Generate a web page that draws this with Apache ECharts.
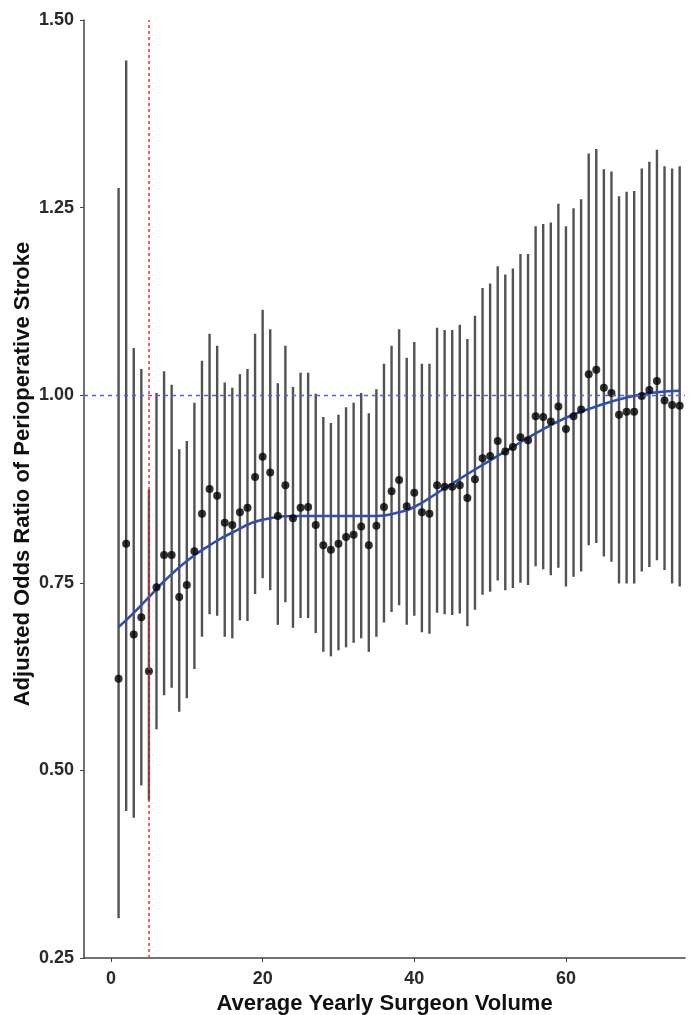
<!DOCTYPE html>
<html>
<head>
<meta charset="utf-8">
<script src="https://cdn.jsdelivr.net/npm/echarts@6/dist/echarts.min.js"></script>
<style>
html,body{margin:0;padding:0;background:#fff;}
#chart{width:695px;height:1015px;}
</style>
</head>
<body>
<div id="chart"></div>
<script>
// Average yearly surgeon volume (x)
const volume = [1,2,3,4,5,6,7,8,9,10,11,12,13,14,15,16,17,18,19,20,21,22,23,24,25,26,27,28,29,30,31,32,33,34,35,36,37,38,39,40,41,42,43,44,45,46,47,48,49,50,51,52,53,54,55,56,57,58,59,60,61,62,63,64,65,66,67,68,69,70,71,72,73,74,75];
// Adjusted odds ratio point estimates
const oddsRatio = [0.622,0.802,0.681,0.704,0.632,0.744,0.787,0.787,0.731,0.747,0.792,0.842,0.875,0.866,0.830,0.827,0.844,0.850,0.891,0.918,0.897,0.839,0.880,0.836,0.850,0.851,0.827,0.800,0.794,0.802,0.811,0.814,0.825,0.800,0.826,0.851,0.872,0.887,0.852,0.870,0.844,0.842,0.880,0.878,0.878,0.880,0.863,0.888,0.916,0.919,0.939,0.925,0.931,0.944,0.940,0.972,0.971,0.965,0.985,0.955,0.972,0.981,1.028,1.034,1.010,1.003,0.974,0.978,0.978,0.999,1.007,1.019,0.993,0.987,0.986];
// Lower confidence limits
const lowerCI = [0.303,0.446,0.437,0.480,0.460,0.555,0.600,0.610,0.578,0.596,0.635,0.678,0.708,0.706,0.678,0.676,0.700,0.699,0.735,0.756,0.740,0.694,0.724,0.690,0.703,0.703,0.683,0.658,0.652,0.660,0.664,0.670,0.676,0.658,0.678,0.697,0.711,0.720,0.694,0.706,0.684,0.682,0.710,0.708,0.707,0.709,0.692,0.714,0.734,0.738,0.753,0.740,0.743,0.750,0.747,0.772,0.768,0.760,0.770,0.745,0.758,0.765,0.800,0.803,0.785,0.778,0.749,0.749,0.749,0.765,0.771,0.780,0.767,0.749,0.745];
// Upper confidence limits
const upperCI = [1.276,1.446,1.063,1.035,0.874,1.003,1.032,1.014,0.928,0.939,0.990,1.046,1.082,1.066,1.017,1.010,1.028,1.035,1.082,1.114,1.088,1.016,1.066,1.011,1.030,1.030,1.002,0.971,0.963,0.974,0.984,0.990,1.003,0.976,1.008,1.042,1.066,1.088,1.050,1.071,1.042,1.042,1.090,1.087,1.087,1.094,1.075,1.106,1.143,1.149,1.172,1.161,1.169,1.188,1.188,1.225,1.228,1.230,1.255,1.225,1.249,1.261,1.322,1.328,1.301,1.298,1.265,1.271,1.272,1.302,1.311,1.327,1.305,1.302,1.305];
// Smoothed trend
const smoothX = [1,3,5,7,10,13,16,20,25,30,35,38,40,44,48,52,56,60,64,68,72,75];
const smoothY = [0.691,0.710,0.731,0.752,0.779,0.800,0.817,0.834,0.839,0.839,0.839,0.844,0.851,0.876,0.901,0.925,0.949,0.970,0.985,0.997,1.004,1.006];
// Reference lines
const refOdds = 1.0;
const refVolume = 5;
const xTicks = [0,20,40,60];

const barData = volume.map((v,i)=>[v, lowerCI[i], upperCI[i]]);
const pointData = volume.map((v,i)=>[v, oddsRatio[i]]);
const smoothData = smoothX.map((v,i)=>[v, smoothY[i]]);

const chart = echarts.init(document.getElementById('chart'));
const FONT = 'Liberation Sans, Arial, sans-serif';
const labelFont = {fontFamily:FONT, fontWeight:'bold', fontSize:18, color:'#2a2a2a'};
const titleFont = {fontFamily:FONT, fontWeight:'bold', fontSize:22, color:'#111'};
chart.setOption({
  animation:false,
  backgroundColor:'#fff',
  grid:{left:84, right:10, top:20, bottom:57, outerBoundsMode:'none', containLabel:false},
  xAxis:{
    type:'value', min:-3.56, max:75.7,
    name:'Average Yearly Surgeon Volume', nameLocation:'middle', nameGap:33,
    nameTextStyle:titleFont,
    axisLine:{show:true, onZero:false, lineStyle:{color:'#444', width:1.5}},
    axisTick:{show:true, length:4, customValues:xTicks, lineStyle:{color:'#444'}},
    axisLabel:Object.assign({customValues:xTicks, margin:12}, labelFont),
    splitLine:{show:false}
  },
  yAxis:{
    type:'value', min:0.25, max:1.5, interval:0.25,
    name:'Adjusted Odds Ratio of Perioperative Stroke', nameLocation:'middle', nameGap:50,
    nameMoveOverlap:false,
    nameTextStyle:Object.assign({padding:[0,0,0,30]}, titleFont),
    axisLine:{show:true, onZero:false, lineStyle:{color:'#444', width:1.5}},
    axisTick:{show:true, length:4, lineStyle:{color:'#444'}},
    axisLabel:Object.assign({margin:10, formatter:v=>v.toFixed(2)}, labelFont),
    splitLine:{show:false}
  },
  series:[
    {
      type:'custom',
      data:barData,
      encode:{x:0, y:[1,2]},
      renderItem:function(params, api){
        const x = api.value(0);
        const p1 = api.coord([x, api.value(1)]);
        const p2 = api.coord([x, api.value(2)]);
        return {type:'line', shape:{x1:p1[0], y1:p1[1], x2:p2[0], y2:p2[1]},
          style:{stroke:'#525252', lineWidth:2.4}};
      },
      z:1
    },
    {
      type:'line',
      data:smoothData,
      smooth:true,
      showSymbol:false,
      lineStyle:{color:'#2f4fae', width:2.6},
      z:3,
      markLine:{
        silent:true, symbol:'none', label:{show:false},
        data:[
          {yAxis:refOdds, lineStyle:{color:'#5261e0', type:[4,4], width:1.3}},
          {xAxis:refVolume, lineStyle:{color:'#ec2b33', type:[3,3], width:1.5}}
        ]
      }
    },
    {
      type:'scatter',
      data:pointData,
      symbol:'circle',
      symbolSize:8,
      itemStyle:{color:'#000'},
      z:4
    }
  ]
});
</script>
</body>
</html>
